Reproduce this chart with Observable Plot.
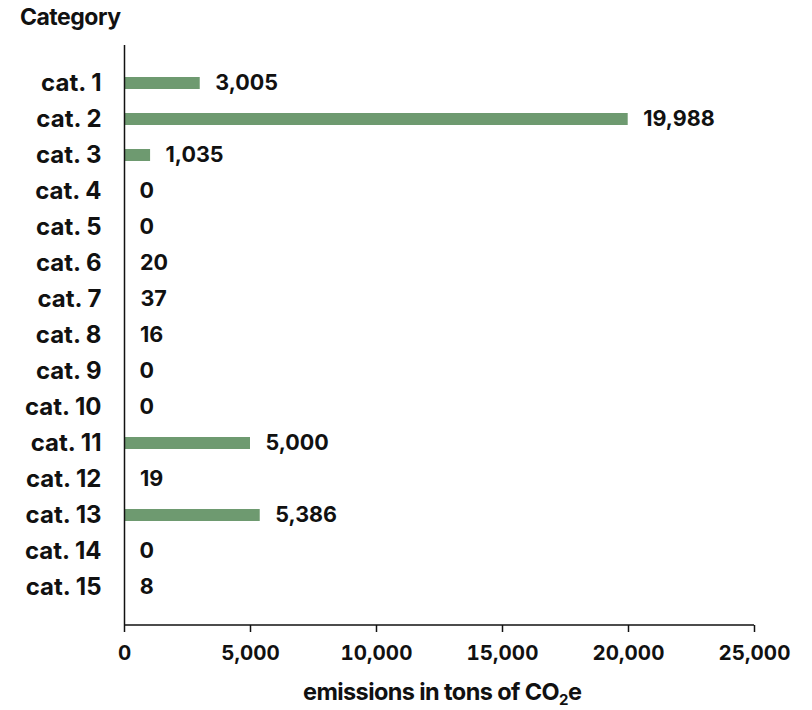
<!DOCTYPE html>
<html>
<head>
<meta charset="utf-8">
<script src="https://cdn.jsdelivr.net/npm/d3@7"></script>
<script src="https://cdn.jsdelivr.net/npm/@observablehq/plot@0.6"></script>
<style>
  html, body { margin: 0; padding: 0; background: #fff; }
  body { width: 812px; height: 710px; overflow: hidden; font-family: Inter, "Noto Sans", sans-serif; color: #111; }
  #title { height: 34px; line-height: 34px; padding-left: 20px; font-size: 23px; font-weight: 650; letter-spacing: -0.5px; }
  #xlabel { height: 36px; line-height: 36px; text-align: left; padding-left: 303px; font-size: 23.5px; font-weight: 650; letter-spacing: -0.6px; white-space: nowrap; }
  #xlabel sub { font-size: 15px; vertical-align: -5px; line-height: 0; }
  svg text { font-family: Inter, "Noto Sans", sans-serif; }
</style>
</head>
<body>
<div id="title">Category</div>
<div id="chart"></div>
<div id="xlabel">emissions in tons of CO<sub>2</sub>e</div>
<script>
const categories = ["cat. 1","cat. 2","cat. 3","cat. 4","cat. 5","cat. 6","cat. 7","cat. 8","cat. 9","cat. 10","cat. 11","cat. 12","cat. 13","cat. 14","cat. 15"];
const emissions = [3005, 19988, 1035, 0, 0, 20, 37, 16, 0, 0, 5000, 19, 5386, 0, 8];
const xTicks = [0, 5000, 10000, 15000, 20000, 25000];

const data = categories.map((c, i) => ({category: c, value: emissions[i]}));
const fmt = d3.format(",");

const chart = Plot.plot({
  width: 812,
  height: 640,
  marginTop: 11,
  marginBottom: 49,
  marginLeft: 124,
  marginRight: 58,
  style: {fontSize: "20px", fontWeight: 650, color: "#111"},
  x: {domain: [0, 25000], ticks: xTicks, tickFormat: fmt, label: null},
  y: {domain: categories, paddingInner: 0.67, paddingOuter: 0.82, label: null},
  marks: [
    Plot.barX(data, {x: "value", y: "category", fill: "#6e9a70"}),
    Plot.text(data, {x: "value", y: "category", text: d => fmt(d.value), textAnchor: "start", dx: 15, fill: "#111", fontSize: 21.5, fontWeight: 650}),
    Plot.ruleX([0], {stroke: "#111", strokeWidth: 1.5}),
    (index, scales, values, dimensions) => {
      const {width, height, marginLeft, marginRight, marginBottom} = dimensions;
      const g = d3.create("svg:g");
      g.append("line")
        .attr("x1", marginLeft).attr("x2", width - marginRight)
        .attr("y1", height - marginBottom).attr("y2", height - marginBottom)
        .attr("stroke", "#111").attr("stroke-width", 1.5);
      return g.node();
    },
    Plot.axisX({ticks: xTicks, tickFormat: fmt, tickSize: 7, tickPadding: 13, label: null, stroke: "#111", strokeWidth: 1.5, fontSize: 20.5, fontWeight: 650}),
    Plot.axisY({tickSize: 0, tickPadding: 23, label: null, fontSize: 24, fontWeight: 650})
  ]
});
document.getElementById("chart").appendChild(chart);
</script>
</body>
</html>
